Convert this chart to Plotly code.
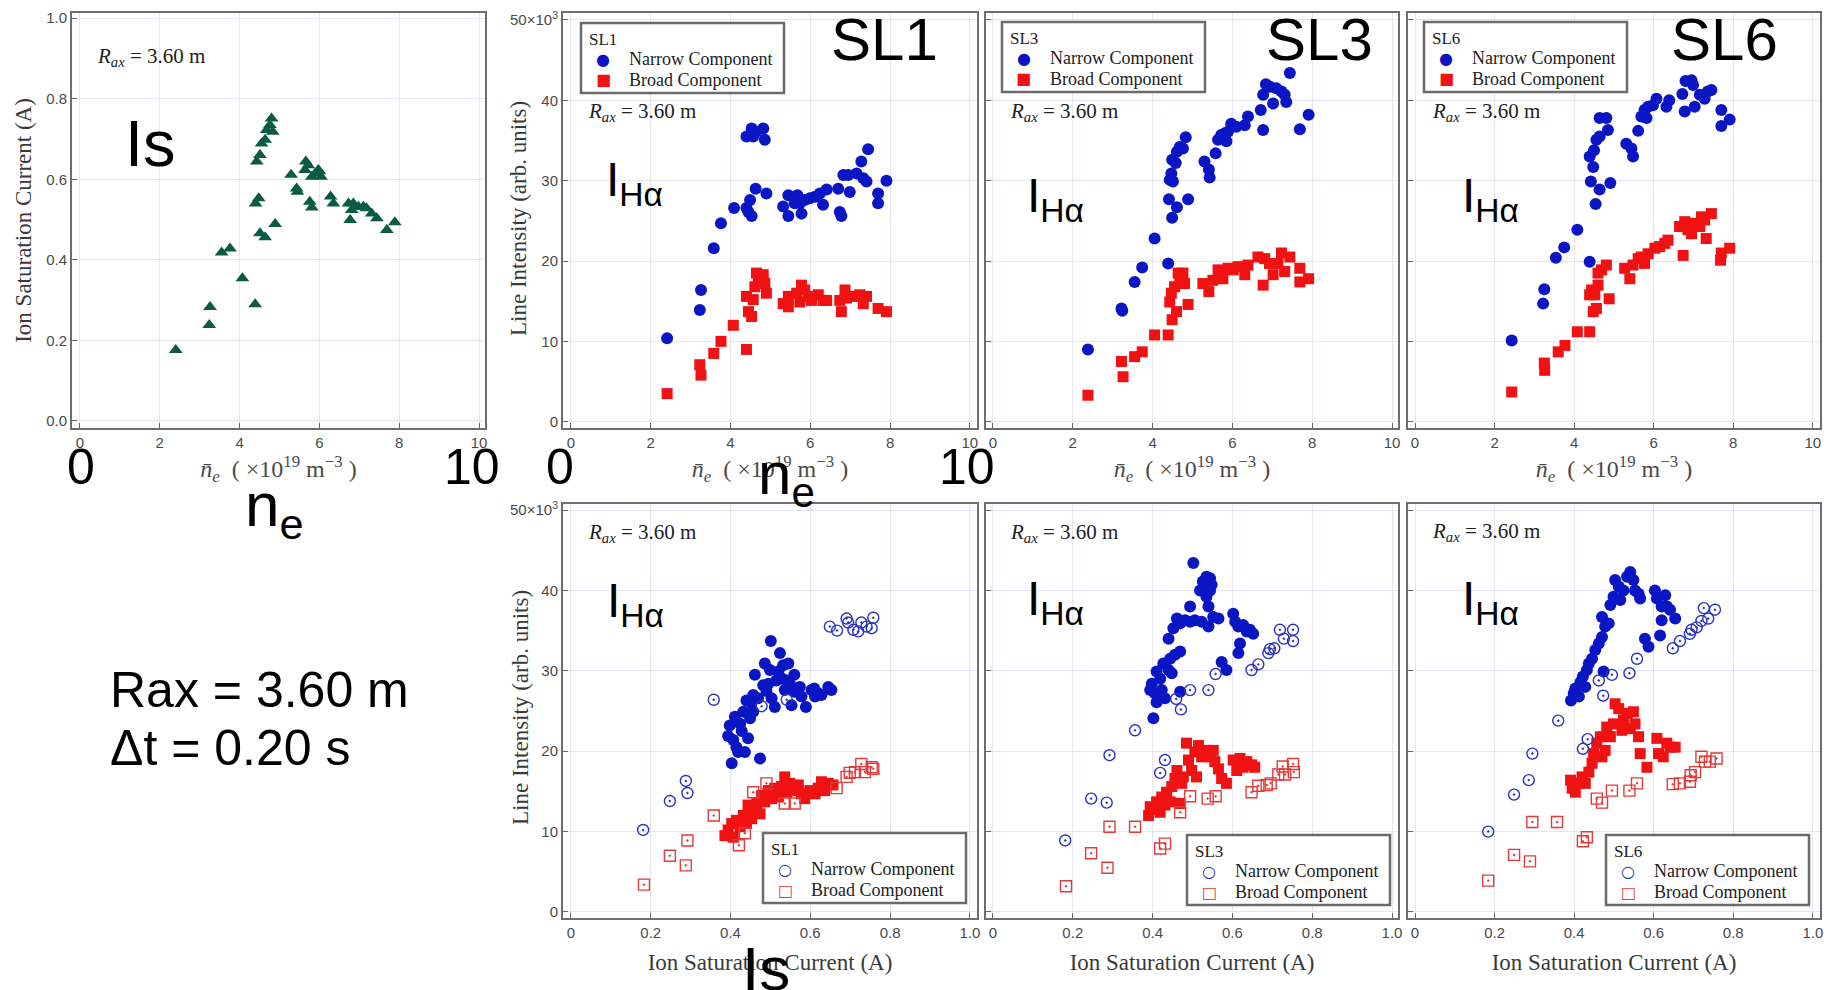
import plotly.graph_objects as go

W, H = 1831, 990
SANS = "Liberation Sans, Arial, sans-serif"
SERIF = "Liberation Serif, Times New Roman, serif"
SYMF = "DejaVu Sans, sans-serif"
BLUE = "#0a16c4"
RED = "#f01212"
GREEN = "#0b5a44"
OBLUE = "#2a32c0"
ORED = "#e43a3a"

# ---------------- data ----------------
# Ion saturation current vs line-averaged density
is_ne = [2.40, 3.24, 3.26, 3.55, 3.76, 4.07, 4.39, 4.40, 4.48, 4.51, 4.64, 4.43, 4.51, 4.55, 4.64,
         4.68, 4.76, 4.80, 4.83, 4.89, 5.29, 5.43, 5.45, 5.66, 5.64, 5.81, 5.76, 5.81, 5.97, 6.04,
         6.28, 6.35, 6.73, 6.77, 6.81, 6.85, 6.98, 7.10, 7.18, 7.31, 7.44, 7.69, 7.89, 5.72, 5.90, 6.00]
is_val = [0.176, 0.238, 0.283, 0.418, 0.428, 0.354, 0.290, 0.540, 0.553, 0.466, 0.456, 0.644, 0.660, 0.689, 0.698,
          0.722, 0.735, 0.751, 0.718, 0.489, 0.611, 0.577, 0.569, 0.644, 0.623, 0.606, 0.544, 0.530, 0.623, 0.606,
          0.557, 0.540, 0.540, 0.499, 0.524, 0.540, 0.532, 0.532, 0.528, 0.515, 0.503, 0.474, 0.493, 0.635, 0.615, 0.620]

# Line intensity (x10^3) vs density, SL1
sl1_ne_narrow_x = [2.41, 3.23, 3.26, 3.58, 3.76, 4.09, 4.40, 4.49, 4.45, 4.53, 4.63, 4.90, 4.40, 4.53, 4.57,
                   4.65, 4.82, 4.86, 5.32, 5.45, 5.45, 5.68, 5.61, 5.78, 5.74, 5.86, 5.99, 6.12, 6.24, 6.32,
                   6.41, 6.70, 6.74, 6.78, 6.83, 6.99, 6.95, 7.16, 7.28, 7.33, 7.41, 7.45, 7.70, 7.70, 7.91]
sl1_ne_narrow_y = [10.4, 13.9, 16.4, 21.6, 24.7, 26.6, 26.6, 27.6, 26.1, 25.6, 29.0, 28.4, 35.5, 36.5, 35.5,
                   36.1, 36.5, 35.1, 26.8, 28.2, 25.6, 28.2, 27.2, 25.9, 27.2, 27.6, 27.8, 28.0, 28.4, 27.0,
                   28.9, 29.0, 26.1, 25.6, 30.7, 28.6, 30.7, 30.9, 32.4, 30.3, 29.9, 33.9, 28.4, 27.2, 30.0]
sl1_ne_broad_x = [2.41, 3.23, 3.26, 3.58, 3.76, 4.07, 4.40, 4.40, 4.45, 4.53, 4.57, 4.61, 4.65, 4.70, 4.82,
                  4.86, 4.90, 5.32, 5.45, 5.45, 5.66, 5.78, 5.74, 5.86, 5.95, 6.03, 6.20, 6.32, 6.41, 6.74,
                  6.78, 6.87, 6.91, 7.08, 7.24, 7.33, 7.41, 7.70, 7.91]
sl1_ne_broad_y = [3.5, 7.1, 5.8, 8.5, 10.0, 12.0, 9.0, 15.6, 13.7, 13.1, 15.2, 16.8, 18.5, 17.6, 18.3,
                  17.2, 16.0, 14.7, 15.6, 14.3, 16.0, 17.0, 14.9, 16.4, 15.6, 15.1, 15.8, 15.1, 15.1, 15.1,
                  13.7, 16.4, 15.4, 15.6, 15.8, 14.7, 15.6, 14.1, 13.7]

# SL3
sl3_ne_narrow_x = [2.38, 3.22, 3.24, 3.55, 3.74, 4.05, 4.39, 4.41, 4.43, 4.47, 4.49, 4.51, 4.49, 4.61, 4.89,
                   4.58, 4.61, 4.68, 4.76, 4.83, 5.30, 5.41, 5.43, 5.58, 5.64, 5.72, 5.81, 5.85, 5.89, 5.97,
                   6.10, 6.31, 6.39, 6.71, 6.77, 6.77, 6.84, 6.94, 7.02, 7.10, 7.23, 7.31, 7.35, 7.44, 7.69, 7.91]
sl3_ne_narrow_y = [9.0, 14.1, 13.8, 17.4, 19.2, 22.8, 19.7, 27.7, 30.1, 30.9, 32.6, 29.9, 25.4, 26.7, 27.7,
                   32.2, 33.6, 34.2, 34.0, 35.4, 32.4, 31.4, 30.4, 33.4, 35.1, 35.7, 35.9, 34.9, 36.1, 37.1,
                   36.7, 36.9, 38.0, 38.8, 36.3, 40.7, 42.0, 41.7, 39.6, 41.5, 41.1, 40.7, 39.8, 43.4, 36.4, 38.2]
sl3_ne_broad_x = [2.38, 3.22, 3.26, 3.55, 3.74, 4.05, 4.39, 4.49, 4.43, 4.47, 4.55, 4.60, 4.64, 4.68, 4.76,
                  4.80, 4.89, 5.26, 5.41, 5.51, 5.64, 5.76, 5.89, 6.02, 6.14, 6.31, 6.39, 6.64, 6.77, 6.81,
                  6.93, 7.02, 7.14, 7.23, 7.31, 7.44, 7.69, 7.69, 7.91]
sl3_ne_broad_y = [3.3, 7.5, 5.6, 8.1, 8.7, 10.8, 10.8, 12.7, 14.9, 16.0, 16.8, 13.7, 18.5, 17.4, 18.5,
                  17.2, 14.6, 17.2, 16.2, 17.6, 18.9, 17.8, 19.1, 18.9, 19.3, 18.3, 19.5, 20.5, 17.0, 20.3,
                  19.7, 18.3, 19.7, 21.0, 18.7, 20.5, 19.1, 17.4, 17.8]

# SL6
sl6_ne_narrow_x = [2.43, 3.25, 3.22, 3.54, 3.75, 4.08, 4.39, 4.42, 4.54, 4.64, 4.91, 4.39, 4.48, 4.50, 4.56,
                   4.64, 4.64, 4.81, 4.85, 5.31, 5.44, 5.48, 5.61, 5.69, 5.77, 5.82, 5.86, 5.98, 6.07, 6.32,
                   6.39, 6.72, 6.78, 6.80, 6.95, 6.99, 7.03, 7.16, 7.28, 7.36, 7.45, 7.70, 7.70, 7.91]
sl6_ne_narrow_y = [10.1, 16.5, 14.7, 20.4, 21.7, 23.9, 19.9, 29.9, 27.1, 28.9, 29.7, 33.0, 31.7, 33.8, 35.1,
                   35.5, 37.8, 37.8, 36.3, 34.6, 34.0, 33.0, 36.2, 38.0, 38.8, 37.8, 39.2, 39.4, 40.2, 39.2,
                   40.0, 40.8, 38.6, 42.4, 42.5, 41.9, 39.2, 40.7, 40.2, 41.1, 41.3, 38.8, 36.8, 37.6]
sl6_ne_broad_x = [2.43, 3.25, 3.26, 3.60, 3.77, 4.08, 4.39, 4.48, 4.56, 4.39, 4.44, 4.52, 4.60, 4.60, 4.69,
                  4.81, 4.88, 5.27, 5.40, 5.48, 5.61, 5.69, 5.77, 5.86, 6.03, 6.15, 6.28, 6.36, 6.74, 6.65,
                  6.78, 6.86, 6.95, 7.03, 7.16, 7.20, 7.32, 7.28, 7.45, 7.68, 7.70, 7.91]
sl6_ne_broad_y = [3.7, 7.3, 6.4, 8.7, 9.5, 11.2, 11.2, 13.7, 14.1, 15.8, 16.4, 15.8, 17.0, 18.5, 18.9,
                  19.5, 15.3, 19.1, 17.8, 19.5, 20.3, 20.5, 19.7, 20.9, 21.6, 21.8, 22.2, 22.6, 20.7, 24.3,
                  24.9, 23.9, 23.4, 24.7, 24.3, 25.5, 22.8, 25.1, 25.9, 20.1, 21.0, 21.6]

# Line intensity (x10^3) vs ion saturation current, SL1
sl1_is_narrow_open_x = [0.181, 0.248, 0.288, 0.292, 0.358, 0.649, 0.667, 0.691, 0.695, 0.708, 0.720, 0.728,
                        0.741, 0.754, 0.758, 0.541, 0.478]
sl1_is_narrow_open_y = [10.2, 13.8, 16.3, 14.8, 26.4, 35.5, 35.0, 36.5, 36.0, 35.1, 34.9, 36.0,
                        35.5, 35.3, 36.6, 26.4, 25.6]
sl1_is_narrow_x = [0.403, 0.394, 0.398, 0.407, 0.415, 0.419, 0.436, 0.411, 0.424, 0.432, 0.444, 0.449, 0.457,
                   0.440, 0.457, 0.461, 0.469, 0.474, 0.482, 0.486, 0.495, 0.499, 0.501, 0.503, 0.511, 0.520,
                   0.524, 0.532, 0.536, 0.541, 0.545, 0.549, 0.553, 0.561, 0.574, 0.578, 0.589, 0.603, 0.612,
                   0.620, 0.628, 0.645, 0.653, 0.428, 0.452, 0.490, 0.515, 0.530, 0.560, 0.610]
sl1_is_narrow_y = [18.5, 21.9, 23.2, 21.4, 20.5, 19.9, 19.9, 24.3, 23.4, 24.9, 21.6, 24.1, 24.9,
                   26.3, 27.0, 29.5, 26.6, 19.1, 28.2, 30.9, 28.4, 30.1, 33.7, 26.6, 25.5, 29.9,
                   32.2, 30.7, 27.6, 28.8, 30.9, 28.4, 25.7, 27.4, 28.0, 26.8, 25.5, 27.6, 26.8,
                   27.2, 27.0, 28.0, 27.6, 22.5, 26.0, 27.5, 28.8, 29.0, 29.5, 27.8]
sl1_is_broad_open_x = [0.183, 0.248, 0.288, 0.292, 0.358, 0.421, 0.436, 0.457, 0.490, 0.536, 0.561, 0.666,
                       0.691, 0.699, 0.712, 0.728, 0.737, 0.754, 0.758]
sl1_is_broad_open_y = [3.4, 7.0, 5.8, 8.9, 12.0, 8.3, 9.8, 14.9, 16.0, 13.5, 13.5, 15.4,
                       16.8, 17.3, 17.4, 18.4, 17.4, 18.0, 17.8]
sl1_is_broad_x = [0.386, 0.394, 0.403, 0.407, 0.415, 0.424, 0.432, 0.440, 0.444, 0.453, 0.457, 0.466, 0.474,
                  0.478, 0.486, 0.495, 0.503, 0.511, 0.520, 0.528, 0.536, 0.541, 0.549, 0.557, 0.570, 0.578,
                  0.586, 0.599, 0.612, 0.620, 0.628, 0.636, 0.645, 0.657]
sl1_is_broad_y = [9.5, 10.2, 11.0, 9.3, 11.4, 10.6, 12.0, 11.0, 13.3, 11.6, 12.7, 13.5, 12.2,
                  14.5, 13.7, 15.1, 14.1, 15.4, 14.3, 15.6, 16.8, 14.9, 16.0, 15.1, 15.8, 14.7,
                  14.1, 15.1, 14.7, 15.4, 16.2, 15.1, 16.0, 15.8]

# SL3
sl3_is_narrow_open_x = [0.181, 0.246, 0.285, 0.292, 0.356, 0.419, 0.431, 0.459, 0.471, 0.494, 0.540, 0.558,
                        0.648, 0.665, 0.690, 0.694, 0.705, 0.719, 0.729, 0.752, 0.752]
sl3_is_narrow_open_y = [8.9, 14.1, 13.6, 19.5, 22.6, 17.3, 18.9, 26.5, 25.2, 27.6, 27.6, 29.6,
                        30.1, 30.8, 32.2, 32.7, 32.8, 35.1, 34.0, 35.1, 33.7]
sl3_is_narrow_x = [0.402, 0.394, 0.398, 0.406, 0.410, 0.419, 0.423, 0.431, 0.410, 0.419, 0.427, 0.440, 0.444,
                   0.448, 0.456, 0.469, 0.469, 0.440, 0.452, 0.461, 0.469, 0.481, 0.494, 0.494, 0.506, 0.502,
                   0.519, 0.526, 0.531, 0.535, 0.544, 0.544, 0.548, 0.535, 0.540, 0.523, 0.540, 0.552, 0.565,
                   0.573, 0.585, 0.602, 0.607, 0.615, 0.619, 0.615, 0.627, 0.636, 0.644, 0.652]
sl3_is_narrow_y = [24.1, 27.6, 28.4, 27.2, 26.1, 26.8, 27.6, 26.6, 29.9, 29.0, 30.9, 30.1, 31.5,
                   29.7, 32.0, 32.4, 27.4, 34.0, 35.3, 36.5, 35.9, 36.3, 36.1, 38.0, 36.3, 43.4,
                   40.0, 41.1, 40.5, 41.7, 41.5, 40.0, 40.7, 39.2, 38.0, 36.1, 35.5, 36.7, 36.5,
                   31.1, 30.1, 37.1, 36.1, 35.5, 33.4, 32.2, 35.7, 34.9, 35.1, 34.6]
sl3_is_broad_open_x = [0.183, 0.246, 0.287, 0.292, 0.356, 0.419, 0.431, 0.469, 0.494, 0.538, 0.558, 0.648,
                       0.665, 0.686, 0.696, 0.715, 0.726, 0.732, 0.752, 0.754]
sl3_is_broad_open_y = [3.2, 7.3, 5.5, 10.6, 10.6, 7.9, 8.5, 12.4, 14.4, 14.1, 14.4, 14.9,
                       15.7, 15.8, 16.0, 17.1, 18.1, 17.1, 18.4, 17.4]
sl3_is_broad_x = [0.390, 0.394, 0.402, 0.410, 0.419, 0.423, 0.431, 0.435, 0.444, 0.448, 0.456, 0.461, 0.469,
                  0.473, 0.477, 0.485, 0.490, 0.498, 0.506, 0.510, 0.515, 0.523, 0.535, 0.544, 0.552, 0.556,
                  0.565, 0.573, 0.585, 0.602, 0.611, 0.619, 0.627, 0.636, 0.648, 0.656]
sl3_is_broad_y = [12.0, 13.1, 12.7, 13.7, 12.4, 14.3, 13.3, 14.9, 13.7, 15.6, 16.6, 17.6, 13.5,
                  16.0, 16.8, 21.0, 18.9, 17.6, 19.9, 16.8, 20.7, 19.3, 20.1, 19.3, 20.1, 18.7,
                  17.8, 16.6, 16.0, 18.9, 17.6, 19.1, 18.0, 18.7, 18.3, 18.0]

# SL6
sl6_is_narrow_open_x = [0.184, 0.249, 0.286, 0.295, 0.360, 0.422, 0.434, 0.462, 0.473, 0.495, 0.539, 0.558,
                        0.648, 0.666, 0.691, 0.695, 0.708, 0.720, 0.726, 0.737, 0.754]
sl6_is_narrow_open_y = [10.0, 14.6, 16.4, 19.7, 23.8, 20.3, 21.5, 28.8, 26.9, 29.5, 29.7, 31.5,
                        32.8, 33.7, 34.6, 35.1, 35.4, 36.2, 37.8, 36.5, 37.6]
sl6_is_narrow_x = [0.392, 0.399, 0.403, 0.412, 0.416, 0.422, 0.428, 0.432, 0.437, 0.445, 0.453, 0.462, 0.470,
                   0.474, 0.470, 0.478, 0.487, 0.491, 0.499, 0.503, 0.512, 0.516, 0.524, 0.533, 0.541, 0.549,
                   0.553, 0.562, 0.566, 0.578, 0.587, 0.603, 0.608, 0.620, 0.629, 0.633, 0.641, 0.620, 0.616,
                   0.654]
sl6_is_narrow_y = [26.3, 27.2, 27.8, 26.8, 28.6, 29.3, 28.0, 30.1, 30.9, 31.5, 32.6, 33.4, 34.2,
                   29.9, 36.7, 35.5, 35.9, 38.2, 39.2, 41.3, 40.5, 38.8, 40.0, 41.7, 42.3, 41.3,
                   40.0, 39.6, 39.0, 34.0, 33.0, 40.0, 39.0, 38.0, 39.4, 38.0, 37.6, 36.3, 34.4,
                   36.5]
sl6_is_broad_open_x = [0.184, 0.249, 0.289, 0.295, 0.357, 0.422, 0.432, 0.457, 0.470, 0.495, 0.539, 0.558,
                       0.648, 0.666, 0.691, 0.693, 0.704, 0.720, 0.729, 0.741, 0.758]
sl6_is_broad_open_y = [3.9, 7.1, 6.3, 11.2, 11.2, 8.8, 9.3, 14.1, 13.6, 15.1, 15.1, 16.0,
                       15.9, 16.0, 16.2, 17.0, 17.4, 19.3, 18.7, 18.7, 19.1]
sl6_is_broad_x = [0.391, 0.395, 0.403, 0.412, 0.420, 0.428, 0.437, 0.445, 0.449, 0.457, 0.466, 0.470, 0.478,
                  0.482, 0.491, 0.499, 0.503, 0.512, 0.520, 0.524, 0.533, 0.541, 0.549, 0.553, 0.562, 0.566,
                  0.583, 0.608, 0.612, 0.624, 0.633, 0.641, 0.654]
sl6_is_broad_y = [16.4, 15.4, 14.9, 16.0, 16.8, 16.0, 17.4, 18.5, 19.7, 21.0, 21.8, 19.3, 20.1,
                  23.0, 21.8, 23.4, 25.9, 25.3, 22.6, 23.9, 24.7, 22.8, 24.9, 23.4, 21.8, 19.7,
                  18.0, 21.6, 19.7, 19.3, 21.0, 20.5, 20.5]

# tick labels
ne_tickvals = [0, 2, 4, 6, 8, 10]
ne_ticktext = ["0", "2", "4", "6", "8", "10"]
is_tickvals = [0, 0.2, 0.4, 0.6, 0.8, 1.0]
is_ticktext = ["0", "0.2", "0.4", "0.6", "0.8", "1.0"]
isy_ticktext = ["0.0", "0.2", "0.4", "0.6", "0.8", "1.0"]
li_tickvals = [0, 10, 20, 30, 40, 50]
li_ticktext = ["0", "10", "20", "30", "40", "50×10<sup>3</sup>"]

# ---------------- helpers ----------------
def px(x):
    return x / W


def py(y):
    return 1 - y / H


fig = go.Figure()

NE_TITLE = "<i>n̄</i><sub><i>e</i></sub>  ( ×10<sup>19</sup> m<sup>−3</sup> )"
IS_TITLE = "Ion Saturation Current (A)"
LI_TITLE = "Line Intensity (arb. units)"

TICKFONT = dict(family=SANS, size=15, color="#4a4a4a")
TITLEFONT = dict(family=SERIF, size=23, color="#3a3a3a")
NEFONT = dict(family=SERIF, size=24, color="#4a4a4a")

# panels: (x-domain px, y-domain px, xrange, yrange)
panels = {
    1: ((72, 485), (13, 428), [-0.2, 10.15], [-0.0174, 1.0127]),
    2: ((563, 977), (13, 428), [-0.2, 10.18], [-0.78, 50.87]),
    3: ((986, 1398), (13, 428), [-0.175, 10.15], [-0.78, 50.87]),
    4: ((1408, 1820), (13, 428), [-0.176, 10.18], [-0.78, 50.87]),
    5: ((563, 977), (504, 918), [-0.020, 1.018], [-0.75, 50.75]),
    6: ((986, 1398), (504, 918), [-0.0175, 1.015], [-0.75, 50.75]),
    7: ((1408, 1820), (504, 918), [-0.0176, 1.018], [-0.75, 50.75]),
}

layout_axes = {}
for k, (xd, yd, xr, yr) in panels.items():
    xs = "" if k == 1 else str(k)
    is_bottom = k >= 5
    xax = dict(
        domain=[px(xd[0]), px(xd[1])], range=xr, anchor="y" + xs,
        tickvals=is_tickvals if is_bottom else ne_tickvals,
        ticktext=is_ticktext if is_bottom else ne_ticktext,
        ticks="inside", ticklen=5, tickcolor="#666", tickwidth=1,
        showline=True, linecolor="#6e6e6e", linewidth=2, mirror=True,
        showgrid=True, gridcolor="#e4e4f2", gridwidth=1, zeroline=False,
        tickfont=TICKFONT,
        title=dict(text=IS_TITLE, font=TITLEFONT, standoff=14) if is_bottom
        else dict(text=NE_TITLE, font=NEFONT, standoff=10),
        automargin=False,
    )
    yax = dict(
        domain=[py(yd[1]), py(yd[0])], range=yr, anchor="x" + xs,
        tickvals=is_tickvals if k == 1 else li_tickvals,
        ticktext=isy_ticktext if k == 1 else li_ticktext,
        ticks="inside", ticklen=5, tickcolor="#666", tickwidth=1,
        showline=True, linecolor="#6e6e6e", linewidth=2, mirror=True,
        showgrid=True, gridcolor="#e4e4f2", gridwidth=1, zeroline=False,
        tickfont=TICKFONT,
        showticklabels=k in (1, 2, 5),
        automargin=False,
    )
    if k == 1:
        yax["title"] = dict(text=IS_TITLE, font=TITLEFONT, standoff=8)
    layout_axes["xaxis" + xs] = xax
    layout_axes["yaxis" + xs] = yax

# ---------------- traces ----------------
fig.add_trace(go.Scatter(x=is_ne, y=is_val, mode="markers", xaxis="x", yaxis="y", showlegend=False,
                         marker=dict(symbol="triangle-up", size=12, color=GREEN), name="Is"))

top_sets = [
    (2, sl1_ne_narrow_x, sl1_ne_narrow_y, sl1_ne_broad_x, sl1_ne_broad_y),
    (3, sl3_ne_narrow_x, sl3_ne_narrow_y, sl3_ne_broad_x, sl3_ne_broad_y),
    (4, sl6_ne_narrow_x, sl6_ne_narrow_y, sl6_ne_broad_x, sl6_ne_broad_y),
]
for k, nx, ny, bx, by in top_sets:
    fig.add_trace(go.Scatter(x=nx, y=ny, mode="markers", xaxis="x" + str(k), yaxis="y" + str(k),
                             name="Narrow Component", showlegend=False,
                             marker=dict(symbol="circle", size=12, color=BLUE)))
    fig.add_trace(go.Scatter(x=bx, y=by, mode="markers", xaxis="x" + str(k), yaxis="y" + str(k),
                             name="Broad Component", showlegend=False,
                             marker=dict(symbol="square", size=11, color=RED)))

bottom_sets = [
    (5, sl1_is_narrow_x, sl1_is_narrow_y, sl1_is_broad_x, sl1_is_broad_y,
     sl1_is_narrow_open_x, sl1_is_narrow_open_y, sl1_is_broad_open_x, sl1_is_broad_open_y),
    (6, sl3_is_narrow_x, sl3_is_narrow_y, sl3_is_broad_x, sl3_is_broad_y,
     sl3_is_narrow_open_x, sl3_is_narrow_open_y, sl3_is_broad_open_x, sl3_is_broad_open_y),
    (7, sl6_is_narrow_x, sl6_is_narrow_y, sl6_is_broad_x, sl6_is_broad_y,
     sl6_is_narrow_open_x, sl6_is_narrow_open_y, sl6_is_broad_open_x, sl6_is_broad_open_y),
]
for k, nx, ny, bx, by, nox, noy, box, boy in bottom_sets:
    xa, ya = "x" + str(k), "y" + str(k)
    fig.add_trace(go.Scatter(x=nx, y=ny, mode="markers", xaxis=xa, yaxis=ya, showlegend=False,
                             name="Narrow Component",
                             marker=dict(symbol="circle", size=12, color=BLUE)))
    fig.add_trace(go.Scatter(x=bx, y=by, mode="markers", xaxis=xa, yaxis=ya, showlegend=False,
                             name="Broad Component",
                             marker=dict(symbol="square", size=11, color=RED)))
    fig.add_trace(go.Scatter(x=nox, y=noy, mode="markers", xaxis=xa, yaxis=ya, showlegend=False,
                             name="Narrow Component",
                             marker=dict(symbol="circle-open-dot", size=11, color=OBLUE,
                                         line=dict(width=1.4, color=OBLUE))))
    fig.add_trace(go.Scatter(x=box, y=boy, mode="markers", xaxis=xa, yaxis=ya, showlegend=False,
                             name="Broad Component",
                             marker=dict(symbol="square-open-dot", size=11, color=ORED,
                                         line=dict(width=1.4, color=ORED))))

# ---------------- annotations / legend boxes ----------------
ann = []
shapes = []


def big(text, x, y, size):
    ann.append(dict(text=text, x=px(x), y=py(y), xref="paper", yref="paper", xanchor="left",
                    yanchor="top", showarrow=False, font=dict(family=SANS, size=size, color="black")))


def rax(x, y):
    ann.append(dict(text="<i>R</i><sub><i>ax</i></sub> = 3.60 m", x=px(x), y=py(y), xref="paper",
                    yref="paper", xanchor="left", yanchor="top", showarrow=False,
                    font=dict(family=SERIF, size=21, color="#222")))


def legend_box(x0, y0, title, filled):
    shapes.append(dict(type="rect", xref="paper", yref="paper", layer="above",
                       x0=px(x0), x1=px(x0 + 203), y0=py(y0 + 70), y1=py(y0),
                       line=dict(color="#6b6b6b", width=2.5), fillcolor="white"))
    ann.append(dict(text=title, x=px(x0 + 6), y=py(y0 + 16), xref="paper", yref="paper",
                    xanchor="left", yanchor="middle", showarrow=False,
                    font=dict(family=SERIF, size=17, color="#222")))
    syms = [("●", BLUE), ("■", RED)] if filled else [("○", OBLUE), ("□", ORED)]
    names = ["Narrow Component", "Broad Component"]
    for i, ((s, c), nm) in enumerate(zip(syms, names)):
        yy = y0 + 36 + 21 * i
        ann.append(dict(text=s, x=px(x0 + 22), y=py(yy), xref="paper", yref="paper",
                        xanchor="center", yanchor="middle", showarrow=False,
                        font=dict(family=SYMF, size=16, color=c)))
        ann.append(dict(text=nm, x=px(x0 + 46), y=py(yy), xref="paper", yref="paper",
                        xanchor="left", yanchor="middle", showarrow=False,
                        font=dict(family=SERIF, size=18, color="#222")))


def ytitle(text, x, y):
    ann.append(dict(text=text, x=px(x), y=py(y), xref="paper", yref="paper", textangle=-90,
                    xanchor="center", yanchor="middle", showarrow=False, font=TITLEFONT))


ytitle(LI_TITLE, 519, 219)
ytitle(LI_TITLE, 520, 708)

legend_box(581, 23, "SL1", True)
legend_box(1002, 22, "SL3", True)
legend_box(1424, 22, "SL6", True)
legend_box(763, 833, "SL1", False)
legend_box(1187, 835, "SL3", False)
legend_box(1606, 835, "SL6", False)

big("Is", 123, 105, 65)
big("SL1", 829, 4, 60)
big("SL3", 1264, 4, 60)
big("SL6", 1669, 4, 60)
for (x, y) in [(604, 151), (1025, 167), (1460, 167), (605, 572), (1025, 570), (1460, 570)]:
    big("I<sub>Hα</sub>", x, y, 48)
big("0", 65, 437, 50)
big("10", 442, 437, 50)
big("0", 544, 437, 50)
big("10", 937, 437, 50)
big("n<sub>e</sub>", 243, 468, 62)
big("n<sub>e</sub>", 756, 438, 60)
big("Rax = 3.60 m", 108, 660, 50)
big("Δt = 0.20 s", 108, 718, 50)
big("Is", 740, 932, 62)

for (x, y) in [(95, 42), (586, 97), (1008, 97), (1430, 97), (586, 518), (1008, 518), (1430, 517)]:
    rax(x, y)

fig.update_layout(
    width=W, height=H, margin=dict(l=0, r=0, t=0, b=0),
    paper_bgcolor="white", plot_bgcolor="white", showlegend=False,
    annotations=ann, shapes=shapes, **layout_axes,
)

fig.write_html("out.html", config={"displayModeBar": False},
               post_script="document.body.style.margin='0';")
